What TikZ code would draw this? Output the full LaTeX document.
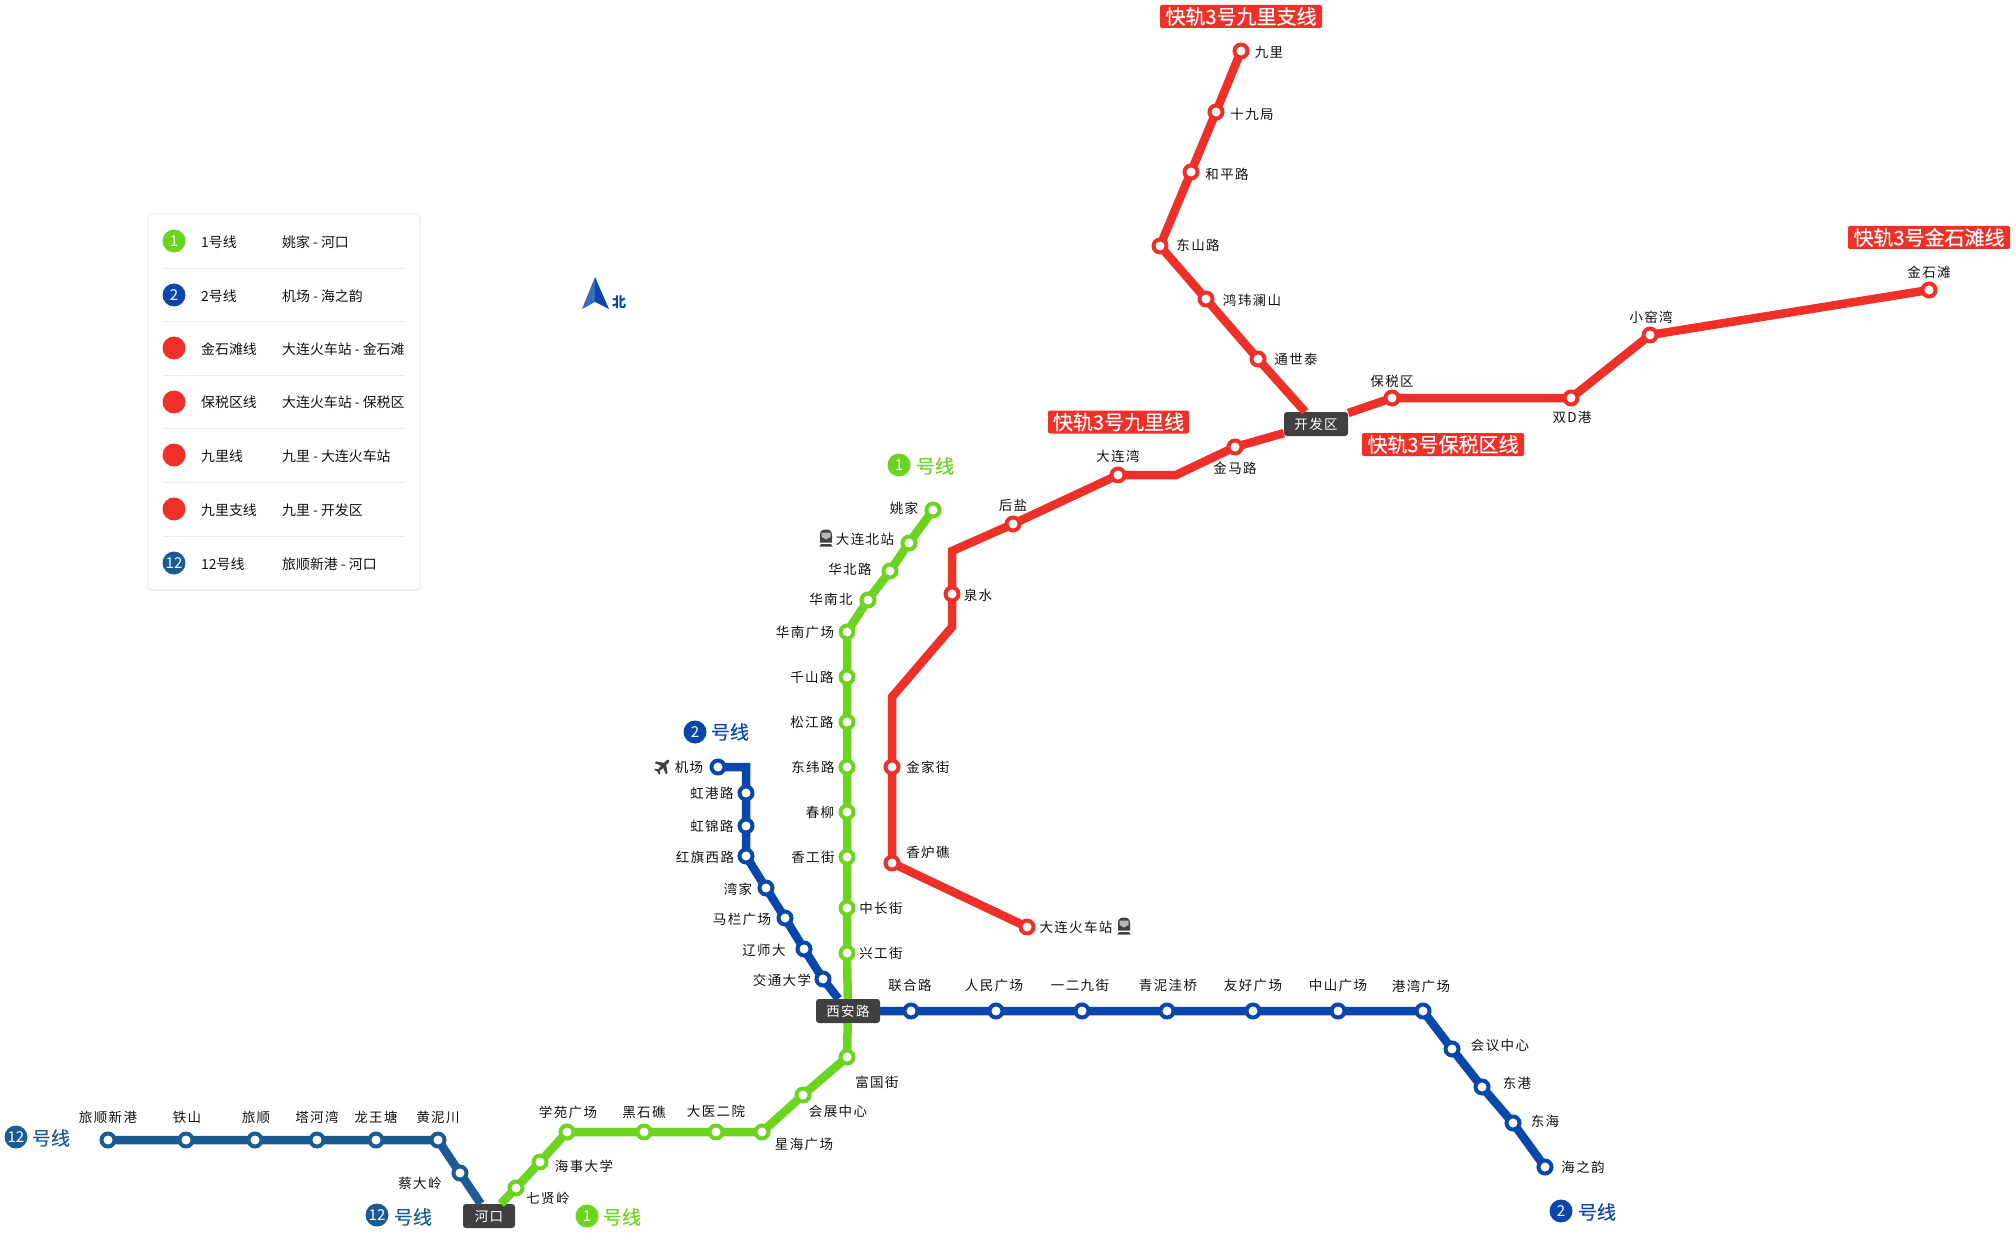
\documentclass[tikz,border=0pt]{standalone}
\usepackage{fontspec}
\setmainfont{Noto Sans CJK SC}
\newfontfamily\stnfont[LetterSpace=10]{Noto Sans CJK SC}
\newfontfamily\tagfont[FakeBold=0.25]{Noto Sans CJK SC}
\usepackage{xcolor}
\definecolor{lineone}{HTML}{6AD41E}
\definecolor{linetwo}{HTML}{0A47AB}
\definecolor{linered}{HTML}{EE3028}
\definecolor{linetwelve}{HTML}{1C5A94}
\definecolor{hubgray}{HTML}{404040}
\definecolor{textgray}{HTML}{111111}
\usepackage{tikz}
\usetikzlibrary{positioning,shadows}
\tikzset{
  stn/.style={circle,fill=white,draw=#1,line width=4pt,minimum size=13pt,inner sep=0pt,outer sep=-1pt},
  stnlabel/.style={inner sep=0pt,yshift=-1pt,text=textgray,font=\stnfont\fontsize{13.5}{13.5}\selectfont},
  track/.style={draw=#1,line width=8.5pt},
  hub/.style={fill=hubgray,rounded corners=3pt,text=white,minimum height=24pt,inner sep=0pt,font=\stnfont\fontsize{13.5}{13.5}\selectfont},
  badge/.style={fill=linered,rounded corners=2pt,text=white,minimum height=23pt,minimum width=162pt,inner sep=0pt,font=\tagfont\fontsize{20}{20}\selectfont},
  linedot/.style={circle,fill=#1,text=white,minimum size=23pt,inner sep=0pt,font=\fontsize{15}{15}\selectfont},
  linetag/.style={inner sep=0pt,text=#1,font=\tagfont\fontsize{19}{19}\selectfont},
  legdot/.style={circle,fill=#1,text=white,minimum size=23pt,inner sep=0pt,font=\fontsize{15}{15}\selectfont},
  legtext/.style={inner sep=0pt,anchor=west,yshift=-1pt,text=textgray,font=\fontsize{13.9}{13.9}\selectfont},
  legrule/.style={draw=black!8,line width=.8pt},
  trainicon/.pic={
    \fill[hubgray] (-6,4.5) -- (-6,-3) .. controls (-6,-7) and (-3.5,-8.5) .. (0,-8.5)
      .. controls (3.5,-8.5) and (6,-7) .. (6,-3) -- (6,4.5) -- cycle;
    \fill[white!72!black] (-4.5,-5.5) -- (4.5,-5.5) -- (4.5,-1) -- (0,1.5) -- (-4.5,-1) -- cycle;
    \fill[hubgray] (-5,6) -- (5,6) -- (6.5,8.5) -- (-6.5,8.5) -- cycle;
  },
  planeicon/.pic={
    \fill[hubgray] (0,-10.5) -- (1.8,-7.5) -- (1.8,-3.5) -- (9.5,2) -- (9.5,4.5) -- (1.8,1.5) -- (1.3,6.5) -- (4,8.5)
      -- (4,10.5) -- (0,9.3) -- (-4,10.5) -- (-4,8.5) -- (-1.3,6.5) -- (-1.8,1.5) -- (-9.5,4.5) -- (-9.5,2)
      -- (-1.8,-3.5) -- (-1.8,-7.5) -- cycle;
  }
}
\begin{document}
\begin{tikzpicture}[x=1pt,y=-1pt]
  \useasboundingbox (0,0) rectangle (2016,1241);

  % legend
  \node[draw=black!10,line width=.6pt,fill=white,rounded corners=4pt,minimum width=272pt,minimum height=376pt,
        drop shadow={opacity=0.15,shadow xshift=0pt,shadow yshift=-1pt}] (legendbox) at (284,402) {};
  \node[legdot=lineone] (legone) at (174,241) {1};
  \node[legtext] (legonename) at (201,241) {1号线};
  \node[legtext] (legoneroute) at (282,241) {姚家 - 河口};
  \draw[legrule] (163,268) -- (405,268);
  \node[legdot=linetwo] (legtwo) at (174,295) {2};
  \node[legtext] (legtwoname) at (201,295) {2号线};
  \node[legtext] (legtworoute) at (282,295) {机场 - 海之韵};
  \draw[legrule] (163,321) -- (405,321);
  \node[legdot=linered] (legjinshi) at (174,348) {};
  \node[legtext] (legjinshiname) at (201,348) {金石滩线};
  \node[legtext] (legjinshiroute) at (282,348) {大连火车站 - 金石滩};
  \draw[legrule] (163,375) -- (405,375);
  \node[legdot=linered] (legbaoshui) at (174,402) {};
  \node[legtext] (legbaoshuiname) at (201,401) {保税区线};
  \node[legtext] (legbaoshuiroute) at (282,401) {大连火车站 - 保税区};
  \draw[legrule] (163,428) -- (405,428);
  \node[legdot=linered] (legjiuli) at (174,455) {};
  \node[legtext] (legjiuliname) at (201,455) {九里线};
  \node[legtext] (legjiuliroute) at (282,455) {九里 - 大连火车站};
  \draw[legrule] (163,482) -- (405,482);
  \node[legdot=linered] (legzhi) at (174,509) {};
  \node[legtext] (legzhiname) at (201,509) {九里支线};
  \node[legtext] (legzhiroute) at (282,509) {九里 - 开发区};
  \draw[legrule] (163,536) -- (405,536);
  \node[legdot=linetwelve] (legtwelve) at (174,563) {12};
  \node[legtext] (legtwelvename) at (201,563) {12号线};
  \node[legtext] (legtwelveroute) at (282,563) {旅顺新港 - 河口};

  % north
  \fill[linetwo!80!white] (595,277) -- (582,309) -- (595,302) -- cycle;
  \fill[linetwo] (595,277) -- (609,309) -- (595,302) -- cycle;
  \node[inner sep=0pt,text=linetwo,font=\bfseries\fontsize{14}{14}\selectfont] (north) at (619,302) {北};

  % hubs
  \node[hub,minimum width=64pt] (xianlu) at (848,1011) {西安路};
  \node[hub,minimum width=64pt] (kaifaqu) at (1316,424) {开发区};
  \node[hub,minimum width=52pt] (hekou) at (489,1216) {河口};

  % line 1
  \node[stn=lineone] (yaojia) at (933,510) {};
  \node[stn=lineone] (dalianbei) at (909,543) {};
  \node[stn=lineone] (huabei) at (890,571) {};
  \node[stn=lineone] (huanan) at (868,600) {};
  \node[stn=lineone] (huanansq) at (847,632) {};
  \node[stn=lineone] (qianshan) at (847,677) {};
  \node[stn=lineone] (songjiang) at (847,722) {};
  \node[stn=lineone] (dongwei) at (847,767) {};
  \node[stn=lineone] (chunliu) at (847,812) {};
  \node[stn=lineone] (xianggong) at (847,857) {};
  \node[stn=lineone] (zhongchang) at (847,908) {};
  \node[stn=lineone] (xinggong) at (847,953) {};
  \node[stn=lineone] (fuguo) at (847,1057) {};
  \node[stn=lineone] (huizhan) at (803,1095) {};
  \node[stn=lineone] (xinghai) at (762,1132) {};
  \node[stn=lineone] (dayi) at (716,1132) {};
  \node[stn=lineone] (heishi) at (644,1132) {};
  \node[stn=lineone] (xueyuan) at (567,1132) {};
  \node[stn=lineone] (haishi) at (540,1162) {};
  \node[stn=lineone] (qixian) at (516,1188) {};
  \draw[track=lineone] (yaojia) -- (dalianbei) -- (huabei) -- (huanan) -- (huanansq) -- (qianshan) -- (songjiang)
    -- (dongwei) -- (chunliu) -- (xianggong) -- (zhongchang) -- (xinggong) -- (xianlu) -- (fuguo) -- (huizhan)
    -- (xinghai) -- (dayi) -- (heishi) -- (xueyuan) -- (haishi) -- (qixian) -- (hekou);

  % line 2
  \coordinate (jichangbend) at (746,767);
  \node[stn=linetwo] (jichang) at (718,767) {};
  \node[stn=linetwo] (honggang) at (746,793) {};
  \node[stn=linetwo] (hongjin) at (746,826) {};
  \node[stn=linetwo] (hongqi) at (746,856) {};
  \node[stn=linetwo] (wanjia) at (766,888) {};
  \node[stn=linetwo] (malan) at (785,918) {};
  \node[stn=linetwo] (liaoshi) at (804,949) {};
  \node[stn=linetwo] (jiaotong) at (823,979) {};
  \node[stn=linetwo] (lianhe) at (911,1011) {};
  \node[stn=linetwo] (renmin) at (996,1011) {};
  \node[stn=linetwo] (yier) at (1082,1011) {};
  \node[stn=linetwo] (qingni) at (1167,1011) {};
  \node[stn=linetwo] (youhao) at (1253,1011) {};
  \node[stn=linetwo] (zhongshan) at (1338,1011) {};
  \node[stn=linetwo] (gangwan) at (1423,1011) {};
  \node[stn=linetwo] (huiyi) at (1452,1049) {};
  \node[stn=linetwo] (donggang) at (1482,1087) {};
  \node[stn=linetwo] (donghai) at (1513,1123) {};
  \node[stn=linetwo] (haizhi) at (1545,1167) {};
  \draw[track=linetwo] (jichang) -- (jichangbend) -- (honggang) -- (hongjin) -- (hongqi) -- (wanjia) -- (malan)
    -- (liaoshi) -- (jiaotong) -- (xianlu) -- (lianhe) -- (renmin) -- (yier) -- (qingni) -- (youhao) -- (zhongshan)
    -- (gangwan) -- (huiyi) -- (donggang) -- (donghai) -- (haizhi);

  % line 12
  \node[stn=linetwelve] (lvshunxin) at (108,1140) {};
  \node[stn=linetwelve] (tieshan) at (186,1140) {};
  \node[stn=linetwelve] (lvshun) at (255,1140) {};
  \node[stn=linetwelve] (tahe) at (317,1140) {};
  \node[stn=linetwelve] (longwang) at (376,1140) {};
  \node[stn=linetwelve] (huangni) at (438,1140) {};
  \node[stn=linetwelve] (caida) at (460,1173) {};
  \draw[track=linetwelve] (lvshunxin) -- (tieshan) -- (lvshun) -- (tahe) -- (longwang) -- (huangni) -- (caida) -- (hekou);

  % kuaigui 3
  \coordinate (redbenda) at (892,697);
  \coordinate (redbendb) at (952,627);
  \coordinate (redbendc) at (952,551);
  \coordinate (redbendd) at (1176,475);
  \node[stn=linered] (dalianzhan) at (1027,927) {};
  \node[stn=linered] (xianglu) at (892,863) {};
  \node[stn=linered] (jinjia) at (892,767) {};
  \node[stn=linered] (quanshui) at (952,594) {};
  \node[stn=linered] (houyan) at (1013,524) {};
  \node[stn=linered] (dalianwan) at (1118,475) {};
  \node[stn=linered] (jinma) at (1235,447) {};
  \node[stn=linered] (baoshui) at (1392,398) {};
  \node[stn=linered] (shuangd) at (1571,398) {};
  \node[stn=linered] (xiaoyao) at (1650,335) {};
  \node[stn=linered] (jinshi) at (1929,290) {};
  \draw[track=linered] (dalianzhan) -- (xianglu) -- (jinjia) -- (redbenda) -- (redbendb) -- (quanshui) -- (redbendc)
    -- (houyan) -- (dalianwan) -- (redbendd) -- (jinma) -- (kaifaqu) -- (baoshui) -- (shuangd) -- (xiaoyao) -- (jinshi);
  \node[stn=linered] (jiuli) at (1241,51) {};
  \node[stn=linered] (shijiu) at (1216,112) {};
  \node[stn=linered] (heping) at (1191,172) {};
  \node[stn=linered] (dongshan) at (1160,246) {};
  \node[stn=linered] (hongwei) at (1206,299) {};
  \node[stn=linered] (tongshi) at (1258,359) {};
  \draw[track=linered] (jiuli) -- (shijiu) -- (heping) -- (dongshan) -- (hongwei) -- (tongshi) -- (kaifaqu);

  % station names
  \node[stnlabel] (tyaojia) at (904,507) {姚家};
  \node[stnlabel] (tdalianbei) at (865,538) {大连北站};
  \node[stnlabel] (thuabei) at (850,568) {华北路};
  \node[stnlabel] (thuanan) at (831,598) {华南北};
  \node[stnlabel] (thuanansq) at (805,631) {华南广场};
  \node[stnlabel] (tqianshan) at (812,676) {千山路};
  \node[stnlabel] (tsongjiang) at (812,721) {松江路};
  \node[stnlabel] (tdongwei) at (813,766) {东纬路};
  \node[stnlabel] (tchunliu) at (820,811) {春柳};
  \node[stnlabel] (txianggong) at (813,856) {香工街};
  \node[stnlabel] (tzhongchang) at (881,907) {中长街};
  \node[stnlabel] (txinggong) at (881,952) {兴工街};
  \node[stnlabel] (tfuguo) at (877,1081) {富国街};
  \node[stnlabel] (thuizhan) at (838,1110) {会展中心};
  \node[stnlabel] (txinghai) at (804,1143) {星海广场};
  \node[stnlabel] (tdayi) at (716,1110) {大医二院};
  \node[stnlabel] (theishi) at (644,1111) {黑石礁};
  \node[stnlabel] (txueyuan) at (568,1111) {学苑广场};
  \node[stnlabel] (thaishi) at (584,1165) {海事大学};
  \node[stnlabel] (tqixian) at (548,1197) {七贤岭};

  \node[stnlabel] (tjichang) at (689,766) {机场};
  \node[stnlabel] (thonggang) at (712,792) {虹港路};
  \node[stnlabel] (thongjin) at (712,825) {虹锦路};
  \node[stnlabel] (thongqi) at (705,856) {红旗西路};
  \node[stnlabel] (twanjia) at (738,888) {湾家};
  \node[stnlabel] (tmalan) at (742,918) {马栏广场};
  \node[stnlabel] (tliaoshi) at (764,949) {辽师大};
  \node[stnlabel] (tjiaotong) at (782,979) {交通大学};
  \node[stnlabel] (tlianhe) at (910,984) {联合路};
  \node[stnlabel] (trenmin) at (994,984) {人民广场};
  \node[stnlabel] (tyier) at (1080,984) {一二九街};
  \node[stnlabel] (tqingni) at (1168,984) {青泥洼桥};
  \node[stnlabel] (tyouhao) at (1253,984) {友好广场};
  \node[stnlabel] (tzhongshan) at (1338,984) {中山广场};
  \node[stnlabel] (tgangwan) at (1421,985) {港湾广场};
  \node[stnlabel] (thuiyi) at (1500,1044) {会议中心};
  \node[stnlabel] (tdonggang) at (1517,1082) {东港};
  \node[stnlabel] (tdonghai) at (1545,1120) {东海};
  \node[stnlabel] (thaizhi) at (1583,1166) {海之韵};

  \node[stnlabel] (tlvshunxin) at (108,1116) {旅顺新港};
  \node[stnlabel] (ttieshan) at (187,1116) {铁山};
  \node[stnlabel] (tlvshun) at (256,1116) {旅顺};
  \node[stnlabel] (ttahe) at (317,1116) {塔河湾};
  \node[stnlabel] (tlongwang) at (376,1116) {龙王塘};
  \node[stnlabel] (thuangni) at (438,1116) {黄泥川};
  \node[stnlabel] (tcaida) at (420,1182) {蔡大岭};

  \node[stnlabel] (tdalianzhan) at (1076,926) {大连火车站};
  \node[stnlabel] (txianglu) at (928,851) {香炉礁};
  \node[stnlabel] (tjinjia) at (928,766) {金家街};
  \node[stnlabel] (tquanshui) at (978,594) {泉水};
  \node[stnlabel] (thouyan) at (1013,504) {后盐};
  \node[stnlabel] (tdalianwan) at (1118,455) {大连湾};
  \node[stnlabel] (tjinma) at (1235,467) {金马路};
  \node[stnlabel] (tbaoshui) at (1392,380) {保税区};
  \node[stnlabel] (tshuangd) at (1572,416) {双D港};
  \node[stnlabel] (txiaoyao) at (1651,316) {小窑湾};
  \node[stnlabel] (tjinshi) at (1929,271) {金石滩};
  \node[stnlabel] (tjiuli) at (1269,51) {九里};
  \node[stnlabel] (tshijiu) at (1252,113) {十九局};
  \node[stnlabel] (theping) at (1227,173) {和平路};
  \node[stnlabel] (tdongshan) at (1198,244) {东山路};
  \node[stnlabel] (thongwei) at (1252,299) {鸿玮澜山};
  \node[stnlabel] (ttongshi) at (1296,358) {通世泰};

  % icons
  \pic (traineast) at (1124,926) {trainicon};
  \pic (trainnorth) at (826,538) {trainicon};
  \pic[rotate=-45,scale=.85] (plane) at (663,766) {planeicon};

  % line tags
  \node[badge] (tagzhi) at (1241,16.5) {快轨3号九里支线};
  \node[badge,minimum width=141pt] (tagjiuli) at (1118.5,422) {快轨3号九里线};
  \node[badge] (tagbaoshui) at (1443,444.5) {快轨3号保税区线};
  \node[badge] (tagjinshi) at (1929,237.5) {快轨3号金石滩线};
  \node[linedot=lineone] (dotonea) at (899,465) {1};
  \node[linetag=lineone] (tagonea) at (935,466) {号线};
  \node[linedot=lineone] (dotoneb) at (587,1216) {1};
  \node[linetag=lineone] (tagoneb) at (622,1217) {号线};
  \node[linedot=linetwo] (dottwoa) at (695,732) {2};
  \node[linetag=linetwo] (tagtwoa) at (730,732) {号线};
  \node[linedot=linetwo] (dottwob) at (1561,1211) {2};
  \node[linetag=linetwo] (tagtwob) at (1597,1212) {号线};
  \node[linedot=linetwelve] (dottwelvea) at (16,1137) {12};
  \node[linetag=linetwelve] (tagtwelvea) at (51,1138) {号线};
  \node[linedot=linetwelve] (dottwelveb) at (377,1215) {12};
  \node[linetag=linetwelve] (tagtwelveb) at (413,1217) {号线};
\end{tikzpicture}
\end{document}
